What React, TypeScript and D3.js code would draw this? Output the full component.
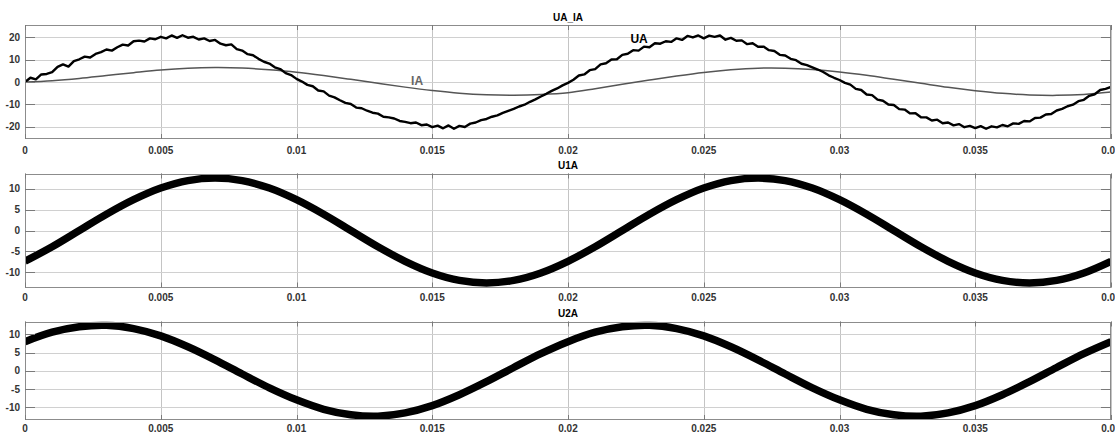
import React from "react";
import * as d3 from "d3";

const W = 1115;
const H = 434;

// ---- data ----
const X_TICKS = [0, 0.005, 0.01, 0.015, 0.02, 0.025, 0.03, 0.035, 0.04];
const X_TICK_LABELS = ["0", "0.005", "0.01", "0.015", "0.02", "0.025", "0.03", "0.035", "0.04"];

const TITLES = ["UA_IA", "U1A", "U2A"];
const Y_TICKS_1 = [-20, -10, 0, 10, 20];
const Y_TICKS_2 = [-10, -5, 0, 5, 10];
const Y_TICKS_3 = [-10, -5, 0, 5, 10];

// UA sampled every 0.2 ms
const UA_DT = 0.0002;
const UA = [
  0.0, 1.9, 1.2, 3.4, 3.6, 4.4, 6.8, 7.9, 6.9, 9.4,
  10.2, 11.4, 11.0, 12.6, 13.4, 14.6, 14.1, 15.6, 16.8, 16.4,
  18.3, 18.6, 18.2, 19.6, 19.2, 20.3, 19.6, 20.9, 19.8, 21.0,
  19.9, 20.3, 19.1, 19.6, 18.4, 18.9, 17.2, 16.5, 16.9, 14.8,
  14.1, 12.5, 12.0, 10.4, 9.1, 8.3, 6.6, 5.8, 4.0, 3.1,
  1.4, 0.2, -1.3, -1.9, -3.8, -4.2, -6.1, -6.9, -8.2, -9.4,
  -9.9, -11.5, -11.8, -12.9, -13.8, -14.2, -15.6, -15.9, -16.4, -17.5,
  -17.9, -18.5, -18.2, -19.4, -19.1, -20.3, -19.6, -20.8, -19.5, -21.0,
  -19.7, -20.2, -18.7, -18.2, -17.1, -16.6, -15.6, -15.0, -13.9, -13.0,
  -12.1, -11.0, -10.2, -8.9, -7.8, -6.5, -5.3, -4.0, -2.9, -1.5,
  -0.4, 1.0, 2.9, 3.4, 5.3, 5.8, 7.9, 8.4, 10.1, 10.2,
  12.2, 12.7, 14.3, 14.1, 15.9, 15.6, 17.4, 17.2, 18.3, 18.0,
  19.6, 18.9, 20.7, 20.0, 20.9, 19.6, 20.8, 20.3, 20.9, 19.0,
  19.8, 18.5, 18.7, 17.0, 17.4, 15.8, 15.9, 14.3, 13.9, 12.2,
  11.9, 10.4, 9.8, 8.2, 7.6, 6.6, 5.6, 4.5, 3.0, 1.9,
  0.9, -0.4, -1.2, -3.1, -3.6, -5.6, -5.9, -7.9, -8.4, -10.1,
  -10.3, -12.2, -12.4, -14.1, -14.0, -15.8, -15.9, -17.3, -16.9, -18.5,
  -18.2, -19.5, -18.9, -20.3, -19.7, -20.7, -19.8, -21.0, -19.9, -20.4,
  -19.3, -19.9, -18.6, -18.8, -17.5, -17.7, -16.2, -16.0, -14.6, -14.4,
  -12.8, -12.1, -10.9, -10.2, -8.6, -8.0, -6.2, -5.5, -3.6, -3.1,
  -2.2,
];

// IA, U1A, U2A sampled every 1 ms
const SMOOTH_DT = 0.001;
const IA = [
  0.0, 0.6, 1.6, 2.9, 4.2, 5.4, 6.2, 6.5, 6.3, 5.5,
  4.4, 2.9, 1.2, -0.6, -2.3, -3.8, -5.0, -5.7, -5.9, -5.6,
  -4.8, -3.0, -1.0, 0.9, 2.7, 4.3, 5.5, 6.2, 6.2, 5.6,
  4.5, 3.0, 1.2, -0.6, -2.4, -3.9, -5.1, -5.8, -6.0, -5.6,
  -4.5,
];
const U1A = [
  -7.4, -3.9, 0.0, 3.9, 7.4, 10.2, 12.0, 12.6, 12.0, 10.2,
  7.4, 3.9, 0.0, -3.9, -7.4, -10.2, -12.0, -12.6, -12.0, -10.2,
  -7.4, -3.9, 0.0, 3.9, 7.4, 10.2, 12.0, 12.6, 12.0, 10.2,
  7.4, 3.9, 0.0, -3.9, -7.4, -10.2, -12.0, -12.6, -12.0, -10.2,
  -7.4,
];
const U2A = [
  8.0, 10.6, 12.1, 12.5, 11.6, 9.6, 6.6, 3.0, -0.9, -4.7,
  -8.0, -10.6, -12.1, -12.5, -11.6, -9.6, -6.6, -3.0, 0.9, 4.7,
  8.0, 10.6, 12.1, 12.5, 11.6, 9.6, 6.6, 3.0, -0.9, -4.7,
  -8.0, -10.6, -12.1, -12.5, -11.6, -9.6, -6.6, -3.0, 0.9, 4.7,
  8.0,
];

// ---- layout ----
const LEFT = 25;
const RIGHT = 1111;
const FONT = "'Liberation Sans', Arial, Helvetica, sans-serif";

type Series = { values: number[]; dt: number; color: string; width: number; curve: d3.CurveFactory };
type Panel = {
  title: string;
  top: number;
  bottom: number;
  labelGap: number;
  domain: [number, number];
  yTicks: number[];
  series: Series[];
  labels: { text: string; t: number; v: number; color: string }[];
};

const panels: Panel[] = [
  {
    title: TITLES[0],
    top: 25,
    bottom: 139,
    labelGap: 14.5,
    domain: [-25.6, 25.6],
    yTicks: Y_TICKS_1,
    series: [
      { values: IA, dt: SMOOTH_DT, color: "#555555", width: 1.5, curve: d3.curveCatmullRom },
      { values: UA, dt: UA_DT, color: "#000000", width: 2.4, curve: d3.curveLinear },
    ],
    labels: [
      { text: "UA", t: 0.0223, v: 17.5, color: "#000000" },
      { text: "IA", t: 0.01422, v: -1.3, color: "#666666" },
    ],
  },
  {
    title: TITLES[1],
    top: 173.5,
    bottom: 287.5,
    labelGap: 13.5,
    domain: [-13.7, 13.7],
    yTicks: Y_TICKS_2,
    series: [{ values: U1A, dt: SMOOTH_DT, color: "#000000", width: 7.5, curve: d3.curveCatmullRom }],
    labels: [],
  },
  {
    title: TITLES[2],
    top: 321.5,
    bottom: 420,
    labelGap: 11.5,
    domain: [-13.55, 13.55],
    yTicks: Y_TICKS_3,
    series: [{ values: U2A, dt: SMOOTH_DT, color: "#000000", width: 7.5, curve: d3.curveCatmullRom }],
    labels: [],
  },
];

const x = d3.scaleLinear().domain([0, 0.04]).range([LEFT, RIGHT]);

function PanelView({ p, idx }: { p: Panel; idx: number }) {
  const y = d3.scaleLinear().domain(p.domain).range([p.bottom, p.top]);
  const clipId = `clip-${idx}`;
  const px = (v: number) => Math.round(v) + 0.5;
  const tickLen = 10;
  return (
    <g>
      <defs>
        <clipPath id={clipId}>
          <rect x={LEFT} y={p.top} width={RIGHT - LEFT} height={p.bottom - p.top} />
        </clipPath>
      </defs>
      <rect x={LEFT} y={p.top} width={RIGHT - LEFT} height={p.bottom - p.top} fill="#ffffff" />
      {/* grid */}
      {X_TICKS.map((t, i) => (
        <line key={`gx${i}`} x1={px(x(t))} x2={px(x(t))} y1={p.top} y2={p.bottom} stroke="#c4c4c4" strokeWidth={1} />
      ))}
      {p.yTicks.map((v, i) => (
        <line key={`gy${i}`} x1={LEFT} x2={RIGHT} y1={px(y(v))} y2={px(y(v))} stroke="#d0d0d0" strokeWidth={1} />
      ))}
      {/* series */}
      <g clipPath={`url(#${clipId})`}>
        {p.series.map((s, i) => {
          const line = d3
            .line<number>()
            .x((_, j) => x(j * s.dt))
            .y((v) => y(v))
            .curve(s.curve);
          return (
            <path
              key={`s${i}`}
              d={line(s.values) || ""}
              fill="none"
              stroke={s.color}
              strokeWidth={s.width}
              strokeLinejoin="round"
            />
          );
        })}
      </g>
      {/* box & ticks */}
      <rect
        x={LEFT + 0.5}
        y={Math.round(p.top) + 0.5}
        width={RIGHT - LEFT - 1}
        height={Math.round(p.bottom) - Math.round(p.top) - 1}
        fill="none"
        stroke="#8c8c8c"
        strokeWidth={1}
      />
      {p.yTicks.map((v, i) => (
        <g key={`ty${i}`}>
          <line x1={LEFT} x2={LEFT + tickLen} y1={px(y(v))} y2={px(y(v))} stroke="#7a7a7a" strokeWidth={1} />
          <line x1={RIGHT - tickLen} x2={RIGHT} y1={px(y(v))} y2={px(y(v))} stroke="#7a7a7a" strokeWidth={1} />
          <text
            x={LEFT - 5}
            y={y(v)}
            dy="0.36em"
            textAnchor="end"
            fontFamily={FONT}
            fontSize={10}
            fontWeight="bold"
            fill="#333333"
          >
            {v}
          </text>
        </g>
      ))}
      {X_TICKS.map((t, i) => (
        <g key={`tx${i}`}>
          <line x1={px(x(t))} x2={px(x(t))} y1={p.bottom} y2={p.bottom - 5} stroke="#7a7a7a" strokeWidth={1} />
          <line x1={px(x(t))} x2={px(x(t))} y1={p.top} y2={p.top + 5} stroke="#7a7a7a" strokeWidth={1} />
          <text
            x={x(t)}
            y={p.bottom + p.labelGap}
            textAnchor="middle"
            fontFamily={FONT}
            fontSize={10}
            fontWeight="bold"
            fill="#333333"
          >
            {X_TICK_LABELS[i]}
          </text>
        </g>
      ))}
      <text
        x={(LEFT + RIGHT) / 2}
        y={p.top - 4.5}
        textAnchor="middle"
        fontFamily={FONT}
        fontSize={10}
        fontWeight="bold"
        fill="#000000"
      >
        {p.title}
      </text>
      {p.labels.map((l, i) => (
        <text
          key={`l${i}`}
          x={x(l.t)}
          y={y(l.v)}
          fontFamily={FONT}
          fontSize={12}
          fontWeight="bold"
          fill={l.color}
        >
          {l.text}
        </text>
      ))}
    </g>
  );
}

export default function App() {
  return (
    <svg
      width={W}
      height={H}
      viewBox={`0 0 ${W} ${H}`}
      style={{ position: "absolute", left: 0, top: 0, background: "#ffffff" }}
    >
      <rect x={0} y={0} width={W} height={H} fill="#ffffff" />
      {panels.map((p, i) => (
        <PanelView key={i} p={p} idx={i} />
      ))}
    </svg>
  );
}
